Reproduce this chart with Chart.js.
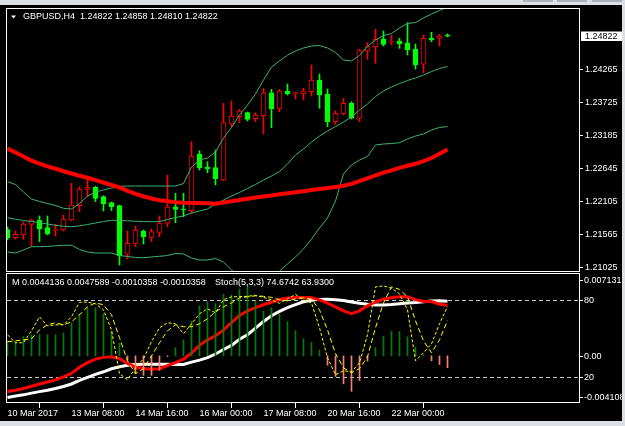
<!DOCTYPE html>
<html><head><meta charset="utf-8">
<script src="https://cdn.jsdelivr.net/npm/chart.js@4.4.1/dist/chart.umd.min.js"></script>
<style>
html,body{margin:0;padding:0;width:625px;height:426px;overflow:hidden;background:#dcdfe4;}
#blk{position:absolute;left:0;top:5px;width:622px;height:416px;background:#000;}
#c1{position:absolute;left:0;top:0;}
#c2{position:absolute;left:0;top:272px;}
#rgt{position:absolute;left:622px;top:0;width:3px;height:426px;background:#dcdfe4;}
.tab{position:absolute;top:0;height:2px;background:#aab0bc;}
</style></head><body>
<div id="blk"></div>
<canvas id="c1" width="625" height="272"></canvas>
<canvas id="c2" width="625" height="154"></canvas>
<div id="rgt"></div>
<div class="tab" style="left:523px;width:30px"></div>
<div class="tab" style="left:557px;width:30px"></div>
<div class="tab" style="left:592px;width:30px"></div>
<script>
// ---------------- data ----------------
const SYMBOL = "GBPUSD,H4";
const OPEN = [1.21646,1.21511,1.21556,1.21731,1.21802,1.21676,1.21630,1.21638,1.21802,1.22037,1.22306,1.22339,1.22185,1.22086,1.22037,1.21239,1.21419,1.21621,1.21518,1.21597,1.21748,1.22020,1.21983,1.21955,1.22886,1.22672,1.22661,1.22459,1.23378,1.23498,1.23564,1.23465,1.23515,1.23892,1.23625,1.23920,1.23882,1.23876,1.23909,1.24101,1.23871,1.23416,1.23554,1.23718,1.23472,1.24577,1.24648,1.24774,1.24725,1.24741,1.24713,1.24610,1.24359,1.24786,1.24786,1.24822];
const HIGH = [1.21687,1.21621,1.21774,1.21818,1.21868,1.21868,1.21731,1.21884,1.22405,1.22349,1.22487,1.22352,1.22201,1.22098,1.22048,1.21621,1.21703,1.21638,1.21654,1.21868,1.22541,1.22240,1.22240,1.23088,1.22940,1.22759,1.22951,1.23718,1.23756,1.23620,1.23575,1.23564,1.23965,1.23948,1.23948,1.24035,1.23904,1.23965,1.24347,1.24199,1.23953,1.23597,1.23800,1.23744,1.24605,1.24713,1.24933,1.24905,1.24840,1.24786,1.25042,1.24692,1.24840,1.24884,1.24851,1.24858];
const LOW = [1.21474,1.21485,1.21485,1.21367,1.21446,1.21556,1.21539,1.21621,1.21786,1.21938,1.22185,1.22102,1.21950,1.21955,1.21063,1.21162,1.21364,1.21408,1.21446,1.21528,1.21692,1.21758,1.21856,1.21909,1.22623,1.22579,1.22377,1.22447,1.23334,1.23400,1.23428,1.23416,1.23214,1.23318,1.23580,1.23854,1.23789,1.23772,1.23838,1.23636,1.23334,1.23373,1.23526,1.23460,1.23416,1.24441,1.24375,1.24659,1.24676,1.24621,1.24511,1.24281,1.24221,1.24730,1.24659,1.24810];
const CLOSE = [1.21502,1.21567,1.21736,1.21802,1.21654,1.21572,1.21649,1.21818,1.22048,1.22311,1.22339,1.22158,1.22065,1.22020,1.21211,1.21419,1.21638,1.21528,1.21610,1.21753,1.22015,1.21974,1.21966,1.22853,1.22656,1.22639,1.22475,1.23400,1.23510,1.23592,1.23455,1.23526,1.23892,1.23625,1.23920,1.23871,1.23892,1.23920,1.24101,1.23854,1.23416,1.23554,1.23718,1.23472,1.24582,1.24648,1.24769,1.24687,1.24741,1.24692,1.24593,1.24347,1.24786,1.24758,1.24820,1.24822];
const BB_UPPER = [1.22431,1.22385,1.22262,1.22147,1.22106,1.22073,1.22040,1.21994,1.21983,1.22073,1.22196,1.22262,1.22295,1.22327,1.22355,1.22360,1.22360,1.22360,1.22360,1.22360,1.22360,1.22360,1.22401,1.22672,1.22787,1.22820,1.22919,1.23148,1.23321,1.23526,1.23690,1.23871,1.24101,1.24314,1.24413,1.24511,1.24577,1.24626,1.24659,1.24667,1.24626,1.24552,1.24429,1.24413,1.24503,1.24651,1.24758,1.24831,1.24864,1.24955,1.25029,1.25045,1.25119,1.25185,1.25242,1.25300];
const BB_MIDDLE = [1.21840,1.21814,1.21794,1.21777,1.21758,1.21736,1.21715,1.21699,1.21692,1.21707,1.21728,1.21753,1.21777,1.21797,1.21794,1.21789,1.21782,1.21776,1.21774,1.21777,1.21810,1.21843,1.21868,1.21917,1.21950,1.21983,1.22065,1.22130,1.22196,1.22254,1.22319,1.22385,1.22459,1.22525,1.22598,1.22722,1.22869,1.22968,1.23083,1.23181,1.23263,1.23337,1.23411,1.23493,1.23608,1.23707,1.23830,1.23920,1.23986,1.24043,1.24093,1.24134,1.24183,1.24240,1.24290,1.24323];
const BB_LOWER = [1.21277,1.21260,1.21309,1.21364,1.21364,1.21367,1.21380,1.21387,1.21387,1.21318,1.21277,1.21260,1.21260,1.21260,1.21219,1.21203,1.21186,1.21183,1.21195,1.21206,1.21219,1.21252,1.21244,1.21178,1.21145,1.21145,1.21170,1.21112,1.20981,1.20883,1.20817,1.20784,1.20784,1.20833,1.20965,1.21080,1.21195,1.21326,1.21490,1.21671,1.21835,1.22114,1.22557,1.22705,1.22787,1.22845,1.23034,1.23050,1.23058,1.23071,1.23132,1.23181,1.23214,1.23280,1.23321,1.23337];
const MA_SLOW = [1.22976,1.22910,1.22845,1.22776,1.22726,1.22684,1.22644,1.22602,1.22566,1.22529,1.22495,1.22456,1.22418,1.22377,1.22336,1.22281,1.22232,1.22191,1.22155,1.22126,1.22109,1.22094,1.22086,1.22081,1.22081,1.22076,1.22070,1.22089,1.22109,1.22130,1.22152,1.22171,1.22188,1.22204,1.22224,1.22242,1.22257,1.22275,1.22295,1.22311,1.22327,1.22344,1.22365,1.22396,1.22442,1.22487,1.22533,1.22579,1.22618,1.22659,1.22692,1.22725,1.22768,1.22820,1.22891,1.22960];
const MACD_MAIN = [-0.003115,-0.003000,-0.002850,-0.002646,-0.002451,-0.002274,-0.002097,-0.001832,-0.001522,-0.000991,-0.000593,-0.000283,-0.000133,-0.000080,-0.000239,-0.000664,-0.000991,-0.001106,-0.001168,-0.001124,-0.000858,-0.000593,-0.000283,0.000248,0.000912,0.001398,0.001752,0.002239,0.002903,0.003522,0.003921,0.004204,0.004452,0.004673,0.004912,0.005045,0.005089,0.005089,0.005071,0.004876,0.004584,0.004275,0.003921,0.003673,0.003921,0.004363,0.004691,0.004938,0.005071,0.005160,0.005160,0.004894,0.004735,0.004735,0.004496,0.0044136];
const MACD_SIGNAL = [-0.003620,-0.003496,-0.003398,-0.003248,-0.003115,-0.003000,-0.002850,-0.002673,-0.002451,-0.002142,-0.001876,-0.001611,-0.001389,-0.001124,-0.000947,-0.000814,-0.000752,-0.000726,-0.000726,-0.000726,-0.000726,-0.000743,-0.000743,-0.000549,-0.000372,-0.000150,0.000159,0.000558,0.000912,0.001443,0.001841,0.002416,0.002991,0.003496,0.003876,0.004204,0.004469,0.004717,0.004850,0.004921,0.004938,0.004894,0.004823,0.004699,0.004584,0.004496,0.004434,0.004434,0.004469,0.004540,0.004611,0.004655,0.004717,0.004779,0.004806,0.0047589];
const MACD_HIST = [0.001310,0.001248,0.001690,0.001841,0.001841,0.001841,0.001841,0.001991,0.002876,0.003611,0.004204,0.004204,0.003673,0.002133,0.001106,-0.000372,-0.001549,-0.001699,-0.001699,-0.001257,-0.000062,0.000717,0.001398,0.003018,0.004345,0.004717,0.004558,0.005381,0.005292,0.005823,0.006115,0.004788,0.003903,0.004204,0.003611,0.002965,0.002195,0.001487,0.001195,0.000513,-0.000814,-0.001788,-0.002434,-0.003089,-0.002142,-0.000460,0.000717,0.001690,0.002133,0.002133,0.001664,0.000779,0.000071,-0.000434,-0.000752,-0.0010358];
const STOCH_MAIN = [52.9,46.7,46.7,56.0,66.8,59.8,60.6,60.6,66.8,78.0,78.2,76.9,72.2,56.7,22.7,18.0,27.3,34.3,47.5,58.3,62.2,61.4,53.7,61.4,69.1,73.0,69.9,80.0,82.3,82.5,82.7,83.5,81.9,80.0,77.3,80.7,84.2,80.0,77.6,58.3,35.1,21.9,25.0,24.2,31.2,52.9,90.0,90.8,89.0,84.6,72.2,32.7,38.9,45.9,61.4,74.6742];
const STOCH_SIGNAL = [47.5,48.2,49.0,49.8,56.7,60.6,62.2,60.6,62.9,68.4,74.6,77.6,76.1,68.4,50.6,32.7,22.7,26.6,36.6,46.7,56.0,60.6,59.1,59.1,61.4,65.3,70.7,74.6,77.6,81.5,82.3,83.1,82.7,81.9,80.0,79.2,80.7,81.5,80.7,72.2,56.7,38.2,27.3,23.5,26.6,35.8,58.3,77.6,90.0,88.1,82.3,63.7,48.2,38.9,49.0,63.93];
const PRICE_TICKS = [1.24265,1.23725,1.23185,1.22645,1.22105,1.21565,1.21025];
const PRICE_RANGE = [1.209646, 1.252666];
const MACD_AXIS = [0.0071318, 0, -0.004108];
const MACD_AXIS_LABELS = ["0.0071318", "0.00", "-0.0041080"];
const STOCH_LEVELS = [80, 20];
const TIME_TICK_INDEX = [0, 8, 16, 24, 32, 40, 48];
const TIME_LABELS = ["10 Mar 2017","13 Mar 08:00","14 Mar 16:00","16 Mar 00:00","17 Mar 08:00","20 Mar 16:00","22 Mar 00:00"];
const MACD_NAME = "M", STOCH_NAME = "Stoch(5,3,3)";

// ---------------- layout / style ----------------
const X_MIN = -0.0625, X_MAX = 71.4375;
const FONT = {family: '"Liberation Sans", Arial, sans-serif', size: 9};
const FONT_CSS = '9px "Liberation Sans", Arial, sans-serif';
const UP = '#ff0000', DN = '#00ff00', BAND = '#3cb371';
Chart.defaults.font = FONT;

const idx = CLOSE.map((_, i) => i);
const isUp = idx.map(i => CLOSE[i] > OPEN[i]);
const pts = a => a.map((v, i) => ({x: i, y: v}));
const last = a => a[a.length - 1];

const mainDeco = {
  id: 'mainDeco',
  afterDraw(chart) {
    const c = chart.ctx, ys = chart.scales.y;
    c.save();
    c.strokeStyle = '#fff'; c.lineWidth = 1;
    c.strokeRect(6.5, 8.5, 573, 263);
    c.fillStyle = '#fff';
    c.beginPath(); c.moveTo(11, 15.5); c.lineTo(16, 15.5); c.lineTo(13.5, 18.5); c.closePath(); c.fill();
    c.font = FONT_CSS; c.textBaseline = 'alphabetic'; c.textAlign = 'left';
    c.fillText(SYMBOL + '  ' + [last(OPEN), last(HIGH), last(LOW), last(CLOSE)].map(v => v.toFixed(5)).join(' '), 23, 19);
    const py = Math.round(ys.getPixelForValue(last(CLOSE)));
    c.fillStyle = '#fff'; c.fillRect(581, py - 4.5, 42, 9.5);
    c.fillStyle = '#000'; c.textBaseline = 'middle';
    c.fillText(last(CLOSE).toFixed(5), 585, py + 0.5);
    c.restore();
  }
};

new Chart(document.getElementById('c1'), {
  type: 'bar',
  data: {
    datasets: [
      {type: 'line', data: pts(MA_SLOW), borderColor: UP, borderWidth: 4, pointRadius: 0, order: 0},
      {type: 'line', data: pts(BB_UPPER), borderColor: BAND, borderWidth: 1, pointRadius: 0, order: 1},
      {type: 'line', data: pts(BB_MIDDLE), borderColor: BAND, borderWidth: 1, pointRadius: 0, order: 1},
      {type: 'line', data: pts(BB_LOWER), borderColor: BAND, borderWidth: 1, pointRadius: 0, order: 1},
      {type: 'bar', data: idx.map(i => ({x: i, y: [OPEN[i], CLOSE[i]]})), barThickness: 5, grouped: false,
       backgroundColor: idx.map(i => isUp[i] ? '#000' : DN), borderColor: idx.map(i => isUp[i] ? UP : DN),
       borderWidth: 1, borderSkipped: false, minBarLength: 1, order: 2},
      {type: 'bar', data: idx.map(i => ({x: i, y: [LOW[i], HIGH[i]]})), barThickness: 1, grouped: false,
       backgroundColor: idx.map(i => isUp[i] ? UP : DN), borderWidth: 0, order: 3}
    ]
  },
  options: {
    responsive: false, animation: false, events: [],
    layout: {padding: {left: 7, right: 3, top: 9, bottom: 1}},
    plugins: {legend: {display: false}, tooltip: {enabled: false}},
    scales: {
      x: {type: 'linear', min: X_MIN, max: X_MAX, offset: false, display: false},
      y: {position: 'right', min: PRICE_RANGE[0], max: PRICE_RANGE[1],
          afterBuildTicks: s => { s.ticks = PRICE_TICKS.map(v => ({value: v})); },
          afterFit: s => { s.width = 43; s.paddingTop = 0; s.paddingBottom = 0; },
          grid: {drawOnChartArea: false, drawTicks: true, tickLength: 4, color: '#fff'},
          border: {display: false},
          ticks: {color: '#fff', font: FONT, padding: 2, autoSkip: false, callback: v => v.toFixed(5)}}
    }
  },
  plugins: [mainDeco]
});

const subDeco = {
  id: 'subDeco',
  beforeDatasetsDraw(chart) {
    const c = chart.ctx, s = chart.scales.yS, a = chart.chartArea;
    c.save();
    c.strokeStyle = '#c8c8c8'; c.lineWidth = 1; c.setLineDash([4, 3]);
    STOCH_LEVELS.forEach(v => {
      const y = Math.round(s.getPixelForValue(v)) + 0.5;
      c.beginPath(); c.moveTo(a.left, y); c.lineTo(a.right, y); c.stroke();
    });
    c.restore();
  },
  afterDraw(chart) {
    const c = chart.ctx, s = chart.scales.yS, m = chart.scales.yM;
    c.save();
    c.strokeStyle = '#fff'; c.lineWidth = 1;
    c.strokeRect(6.5, 1.5, 573, 129);
    c.fillStyle = '#fff'; c.font = FONT_CSS; c.textAlign = 'left'; c.textBaseline = 'alphabetic';
    c.fillText(MACD_NAME + ' ' + [last(MACD_MAIN).toFixed(7), last(MACD_SIGNAL).toFixed(7), last(MACD_HIST).toFixed(7), last(MACD_HIST).toFixed(7)].join(' '), 12, 13);
    c.fillText(STOCH_NAME + ' ' + last(STOCH_MAIN).toFixed(4) + ' ' + last(STOCH_SIGNAL).toFixed(4), 215, 13);
    c.textBaseline = 'middle';
    const marks = [];
    MACD_AXIS.forEach((v, k) => {
      let y = m.getPixelForValue(v);
      if (k === 0) y += 6; else if (k === MACD_AXIS.length - 1) y -= 6;
      marks.push([y, MACD_AXIS_LABELS[k]]);
    });
    STOCH_LEVELS.forEach(v => marks.push([s.getPixelForValue(v), String(v)]));
    marks.forEach(([y, t]) => {
      c.fillRect(580, Math.round(y), 3, 1);
      c.fillText(t, 584, y + 0.5);
    });
    c.restore();
  }
};

new Chart(document.getElementById('c2'), {
  type: 'bar',
  data: {
    datasets: [
      {type: 'line', data: pts(STOCH_MAIN), yAxisID: 'yS', borderColor: '#ffff00', borderWidth: 1, borderDash: [3, 2], pointRadius: 0, order: 0},
      {type: 'line', data: pts(STOCH_SIGNAL), yAxisID: 'yS', borderColor: '#ffff00', borderWidth: 1, borderDash: [5, 3], pointRadius: 0, order: 0},
      {type: 'bar', data: pts(MACD_HIST), yAxisID: 'yM', barThickness: 1, grouped: false,
       backgroundColor: MACD_HIST.map(v => v >= 0 ? '#008000' : '#fa8072'), borderWidth: 0, order: 1},
      {type: 'line', data: pts(MACD_MAIN), yAxisID: 'yM', borderColor: '#ff0000', borderWidth: 3, pointRadius: 0, order: 2},
      {type: 'line', data: pts(MACD_SIGNAL), yAxisID: 'yM', borderColor: '#ffffff', borderWidth: 3, pointRadius: 0, order: 3}
    ]
  },
  options: {
    responsive: false, animation: false, events: [],
    layout: {padding: {left: 7, right: 3, top: 2, bottom: 0}},
    plugins: {legend: {display: false}, tooltip: {enabled: false}},
    scales: {
      x: {type: 'linear', min: X_MIN, max: X_MAX, offset: false, position: 'bottom',
          afterBuildTicks: s => { s.ticks = TIME_TICK_INDEX.map(v => ({value: v})); },
          afterFit: s => { s.height = 23; s.paddingLeft = 0; s.paddingRight = 0; },
          grid: {drawOnChartArea: false, drawTicks: true, tickLength: 5, color: '#fff'},
          border: {display: false},
          ticks: {color: '#fff', font: FONT, align: 'start', padding: 0, maxRotation: 0, autoSkip: false,
                  callback: (v, i) => TIME_LABELS[i]}},
      yS: {position: 'right', min: 0, max: 100,
           afterFit: s => { s.width = 43; s.paddingTop = 0; s.paddingBottom = 0; },
           ticks: {display: false}, grid: {display: false}, border: {display: false}},
      yM: {display: false, min: last(MACD_AXIS), max: MACD_AXIS[0]}
    }
  },
  plugins: [subDeco]
});
</script>
</body></html>
